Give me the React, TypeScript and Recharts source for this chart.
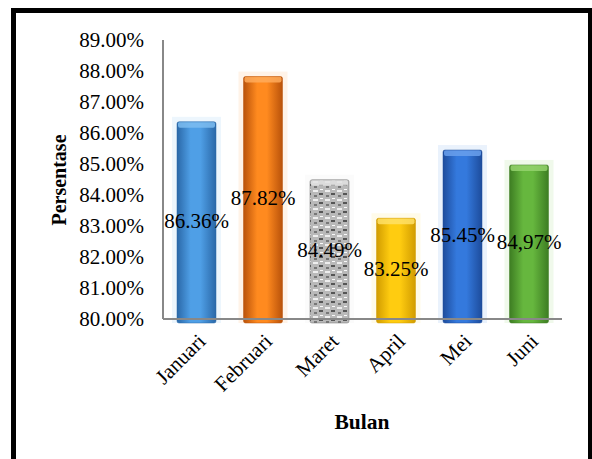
import React from "react";
import { BarChart, Bar, XAxis, YAxis, Cell, LabelList } from "recharts";

const months = ["Januari", "Februari", "Maret", "April", "Mei", "Juni"];
const percent = [86.36, 87.82, 84.49, 83.25, 85.45, 84.97];
const valueLabels = ["86.36%", "87.82%", "84.49%", "83.25%", "85.45%", "84,97%"];
const yTicks = [80, 81, 82, 83, 84, 85, 86, 87, 88, 89];

// edge / center / cap colours per bar
const barColors = [
  { edge: "#2a68a8", mid: "#4f9fe6", cap: "#7cbcf0" },
  { edge: "#b9520a", mid: "#ff8a1f", cap: "#ffab5c" },
  { edge: "#6f6f6f", mid: "#c8c8c8", cap: "#e2e2e2" },
  { edge: "#d19c00", mid: "#ffcc10", cap: "#ffe066" },
  { edge: "#1d4c9c", mid: "#3479dd", cap: "#6aa0ec" },
  { edge: "#3d7d22", mid: "#66b73e", cap: "#95d36f" },
];

const data = months.map((m, i) => ({ month: m, value: percent[i], label: valueLabels[i] }));

const FONT = "Liberation Serif, serif";

function CylinderBar(props: any) {
  const { x, y, width, height, index } = props;
  const c = barColors[index];
  const fill = index === 2 ? "url(#maretPattern)" : `url(#grad${index})`;
  return (
    <g>
      <rect x={x - 5} y={y - 5} width={width + 10} height={height + 9} fill={c.cap} opacity={0.14} />
      <rect x={x} y={y} width={width} height={height + 4} fill={fill} rx={2} />
      <rect x={x + 1} y={y} width={width - 2} height={6} fill={c.cap} rx={2} opacity={0.85} />
      <rect x={x} y={y} width={width} height={height + 4} fill="none" stroke={c.edge} strokeOpacity={0.5} rx={2} />
    </g>
  );
}

export default function App() {
  return (
    <div style={{ position: "absolute", left: 0, top: 0, width: 592, height: 459, overflow: "hidden", background: "#fff", fontFamily: FONT }}>
      <div
        style={{
          position: "absolute",
          left: 11,
          top: 8,
          width: 572,
          height: 470,
          borderLeft: "5px solid #000",
          borderTop: "5px solid #000",
          borderRight: "4px solid #000",
        }}
      />
      <div style={{ position: "absolute", left: 0, top: 0 }}>
        <BarChart
          width={592}
          height={459}
          data={data}
          margin={{ top: 40, right: 30, bottom: 0, left: 0 }}
          barSize={39}
          style={{ fontFamily: FONT }}
        >
          <defs>
            {barColors.map((c, i) => (
              <linearGradient key={i} id={`grad${i}`} x1="0" y1="0" x2="1" y2="0">
                <stop offset="0%" stopColor={c.edge} />
                <stop offset="35%" stopColor={c.mid} />
                <stop offset="60%" stopColor={c.mid} />
                <stop offset="100%" stopColor={c.edge} />
              </linearGradient>
            ))}
            <pattern id="maretPattern" width="12" height="9" patternUnits="userSpaceOnUse">
              <rect width="12" height="9" fill="#b9b9b9" />
              <rect x="1" y="1" width="5" height="2" fill="#eeeeee" />
              <rect x="7" y="4" width="4" height="2" fill="#555" />
              <rect x="2" y="6" width="3" height="2" fill="#777" />
              <rect x="8" y="0" width="3" height="1" fill="#fafafa" />
            </pattern>
          </defs>
          <XAxis
            dataKey="month"
            height={140}
            stroke="#888"
            strokeWidth={2}
            tickLine={false}
            interval={0}
            tick={{ fontFamily: FONT, fontSize: 21, fill: "#000" }}
            angle={-45}
            textAnchor="end"
            tickMargin={7}
            label={() => (
              <text x={362} y={429} textAnchor="middle" fontFamily={FONT} fontSize={21.5} fontWeight="bold" fill="#000">
                Bulan
              </text>
            )}
          />
          <YAxis
            domain={[80, 89]}
            ticks={yTicks}
            width={163}
            stroke="#888"
            strokeWidth={2}
            tickLine={false}
            tickSize={0}
            tickMargin={19}
            tickFormatter={(v: number) => `${v.toFixed(2)}%`}
            tick={{ fontFamily: FONT, fontSize: 21, fill: "#000" }}
            label={() => (
              <text
                x={66}
                y={180}
                transform="rotate(-90 66 180)"
                textAnchor="middle"
                fontFamily={FONT}
                fontSize={20}
                fontWeight="bold"
                fill="#000"
              >
                Persentase
              </text>
            )}
          />
          <Bar dataKey="value" isAnimationActive={false} shape={CylinderBar}>
            {data.map((_, i) => (
              <Cell key={i} />
            ))}
            <LabelList dataKey="label" position="center" fontFamily={FONT} fontSize={21} fill="#000" />
          </Bar>
        </BarChart>
      </div>
    </div>
  );
}
